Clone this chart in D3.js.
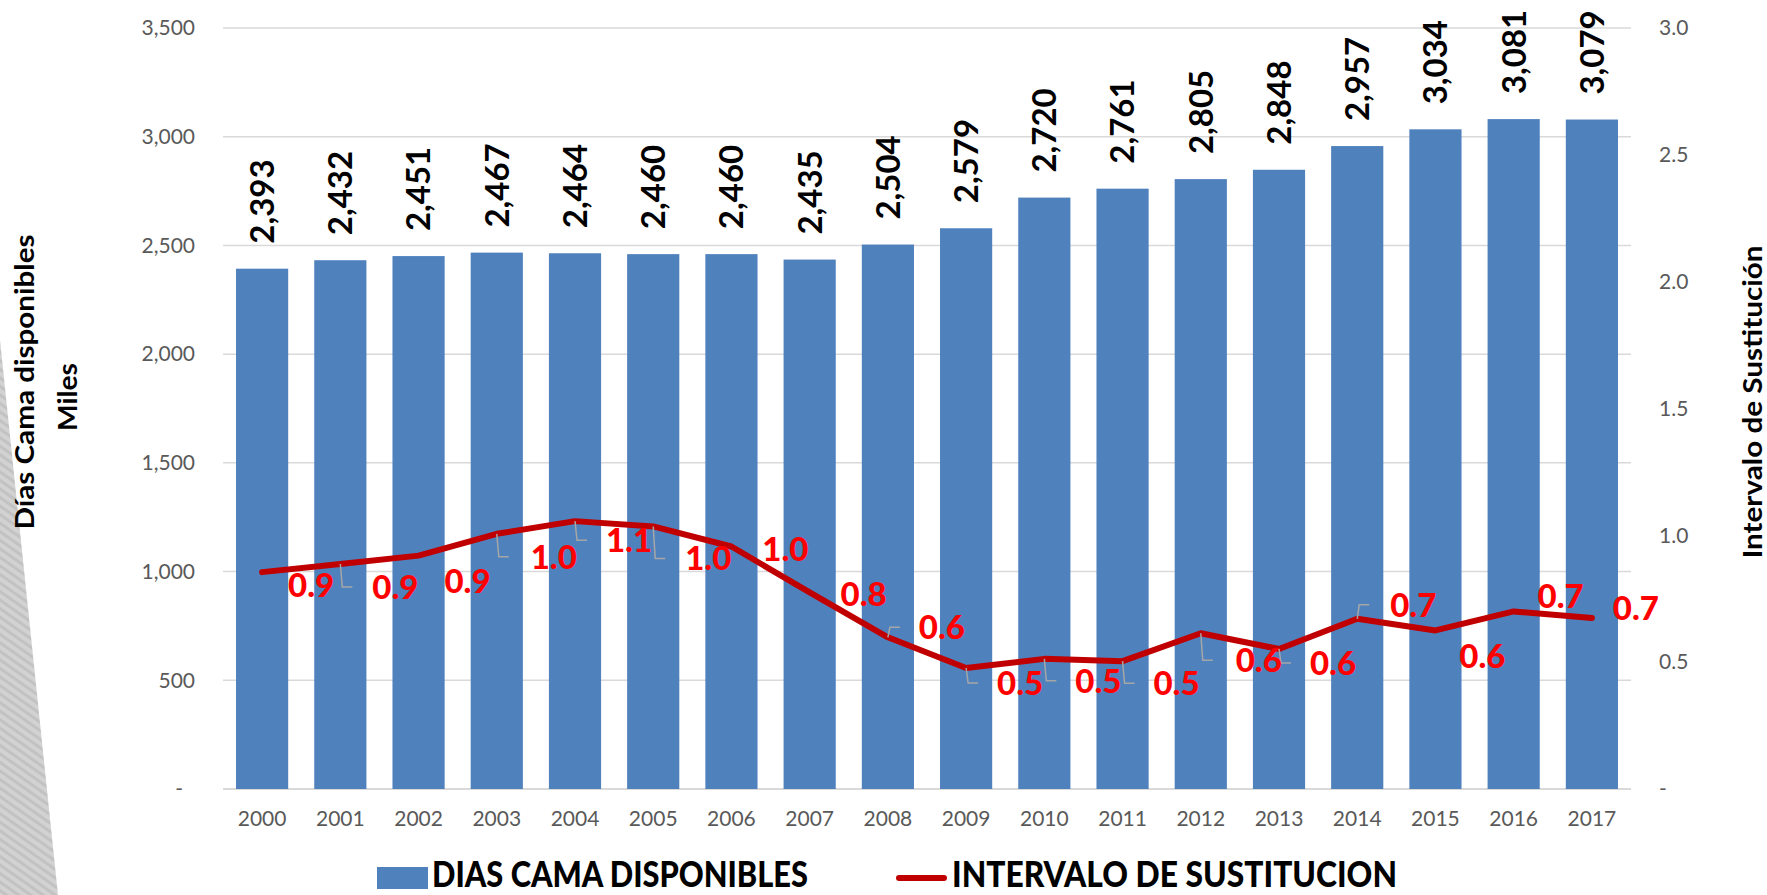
<!DOCTYPE html>
<html>
<head>
<meta charset="utf-8">
<script src="https://cdn.jsdelivr.net/npm/d3@7"></script>
<style>
  body { margin: 0; background: #fff; }
  text { font-family: Lato, "Open Sans", sans-serif; }
</style>
</head>
<body>
<div id="chart"></div>
<script>
// data
const years = ['2000', '2001', '2002', '2003', '2004', '2005', '2006', '2007', '2008',
	'2009', '2010', '2011', '2012', '2013', '2014', '2015', '2016', '2017'];
const diasCama = [2393, 2432, 2451, 2467, 2464, 2460, 2460, 2435, 2504,
	2579, 2720, 2761, 2805, 2848, 2957, 3034, 3081, 3079];
const intervalo = [0.855, 0.887, 0.920, 1.006, 1.056, 1.035, 0.956, 0.775, 0.598,
	0.477, 0.513, 0.504, 0.614, 0.552, 0.671, 0.625, 0.700, 0.674];
const leftTicks = [0, 500, 1000, 1500, 2000, 2500, 3000, 3500];
const rightTicks = [0, 0.5, 1.0, 1.5, 2.0, 2.5, 3.0];

// manual nudges of the red labels (px from their point), and which ones get a leader
const lineLabelOffsets = [[49, 13], [55, 23], [49, 25], [57, 23], [54, 19], [55, 32], [54, 3],
	[54, 2], [54, -10], [54, 15], [54, 22], [54, 22], [58, 27], [54, 14], [56, -14],
	[47, 26], [47, -15], [44, -10]];
const withLeader = [1, 3, 4, 5, 8, 9, 10, 11, 12, 13, 14];

const W = 1767, H = 895;
const margin = { top: 28, right: 136, bottom: 106, left: 223 };

const svg = d3.select('#chart').append('svg')
	.attr('width', W)
	.attr('height', H);

// grey hatched strip on the left edge
const defs = svg.append('defs');
const pat = defs.append('pattern')
	.attr('id', 'hatch')
	.attr('patternUnits', 'userSpaceOnUse')
	.attr('width', 7).attr('height', 7)
	.attr('patternTransform', 'rotate(35)');
pat.append('rect').attr('width', 7).attr('height', 7).attr('fill', '#d2d2d2');
pat.append('rect').attr('width', 7).attr('height', 3).attr('fill', '#c2c2c2');
svg.append('path')
	.attr('d', 'M0,340 L58,895 L0,895 Z')
	.attr('fill', 'url(#hatch)');

const x = d3.scaleBand()
	.domain(years)
	.range([margin.left, W - margin.right])
	.paddingInner(0.333)
	.paddingOuter(0.1665);

const yL = d3.scaleLinear()
	.domain([0, 3500])
	.range([H - margin.bottom, margin.top]);

const yR = d3.scaleLinear()
	.domain([0, 3])
	.range([H - margin.bottom, margin.top]);

const cx = d => x(d) + x.bandwidth() / 2;

// gridlines
svg.append('g')
	.selectAll('line')
	.data(leftTicks)
	.enter().append('line')
	.attr('x1', margin.left)
	.attr('x2', W - margin.right)
	.attr('y1', d => yL(d))
	.attr('y2', d => yL(d))
	.attr('stroke', '#d9d9d9')
	.attr('stroke-width', d => d === 0 ? 2 : 1.5);

// axes
const fmtL = d3.format(',');
const yAxisL = d3.axisLeft(yL)
	.tickValues(leftTicks)
	.tickSize(0)
	.tickPadding(28)
	.tickFormat(d => d === 0 ? '-' : fmtL(d));

const yAxisR = d3.axisRight(yR)
	.tickValues(rightTicks)
	.tickSize(0)
	.tickPadding(28)
	.tickFormat(d => d === 0 ? '-' : d3.format('.1f')(d));

const xAxis = d3.axisBottom(x)
	.tickSize(0)
	.tickPadding(22);

const gL = svg.append('g')
	.attr('transform', `translate(${margin.left}, 0)`)
	.call(yAxisL);
gL.selectAll('text').filter(d => d === 0).attr('dx', -12);

const gR = svg.append('g')
	.attr('transform', `translate(${W - margin.right}, 0)`)
	.call(yAxisR);

const gX = svg.append('g')
	.attr('transform', `translate(0, ${H - margin.bottom})`)
	.call(xAxis);

[gL, gR, gX].forEach(g => {
	g.select('.domain').remove();
	g.selectAll('text')
		.attr('font-family', 'Lato, sans-serif')
		.attr('font-size', 21)
		.attr('fill', '#595959');
});

// bars
svg.append('g')
	.selectAll('rect')
	.data(years)
	.enter().append('rect')
	.attr('x', d => x(d))
	.attr('width', x.bandwidth())
	.attr('y', (d, i) => yL(diasCama[i]))
	.attr('height', (d, i) => yL(0) - yL(diasCama[i]))
	.attr('fill', '#4f81bd');

// bar value labels (rotated)
svg.append('g')
	.selectAll('text')
	.data(years)
	.enter().append('text')
	.attr('transform', (d, i) => `translate(${cx(d)}, ${yL(diasCama[i]) - 25}) rotate(-90)`)
	.attr('dy', '0.36em')
	.attr('text-anchor', 'start')
	.attr('font-weight', 700)
	.attr('font-size', 33)
	.attr('fill', '#000')
	.text((d, i) => fmtL(diasCama[i]));

// line
const line = d3.line()
	.x((d, i) => cx(years[i]))
	.y(d => yR(d));

svg.append('path')
	.datum(intervalo)
	.attr('fill', 'none')
	.attr('stroke', '#c00000')
	.attr('stroke-width', 6)
	.attr('stroke-linejoin', 'round')
	.attr('stroke-linecap', 'round')
	.attr('d', line);

// leader lines
svg.append('g')
	.selectAll('path')
	.data(withLeader)
	.enter().append('path')
	.attr('fill', 'none')
	.attr('stroke', '#a6a6a6')
	.attr('stroke-width', 1.5)
	.attr('d', i => {
		const px = cx(years[i]), py = yR(intervalo[i]);
		const ly = py + lineLabelOffsets[i][1];
		return `M${px},${py} L${px + 2},${ly} L${px + 12},${ly}`;
	});

// line value labels
svg.append('g')
	.selectAll('text')
	.data(intervalo)
	.enter().append('text')
	.attr('x', (d, i) => cx(years[i]) + lineLabelOffsets[i][0])
	.attr('y', (d, i) => yR(d) + lineLabelOffsets[i][1])
	.attr('dy', '0.36em')
	.attr('text-anchor', 'middle')
	.attr('font-weight', 900)
	.attr('font-size', 33)
	.attr('fill', '#ff0000')
	.text(d => d3.format('.1f')(d));

// axis titles
const title = (txt, tx, ty, len) => svg.append('text')
	.attr('transform', `translate(${tx}, ${ty}) rotate(-90)`)
	.attr('text-anchor', 'middle')
	.attr('font-weight', 700)
	.attr('font-size', 27)
	.attr('fill', '#000')
	.attr('textLength', len)
	.attr('lengthAdjust', 'spacingAndGlyphs')
	.text(txt);

title('Días Cama disponibles', 34, 382, 295);
title('Miles', 77, 397, 68);
title('Intervalo de Sustitución', 1762, 402, 313);

// legend
const legend = svg.append('g');
legend.append('rect')
	.attr('x', 377).attr('y', 867)
	.attr('width', 51).attr('height', 22)
	.attr('fill', '#4f81bd');
legend.append('text')
	.attr('x', 432).attr('y', 887)
	.attr('font-weight', 900).attr('font-size', 36)
	.attr('textLength', 376).attr('lengthAdjust', 'spacingAndGlyphs')
	.text('DIAS CAMA DISPONIBLES');
legend.append('line')
	.attr('x1', 899).attr('x2', 944)
	.attr('y1', 878).attr('y2', 878)
	.attr('stroke', '#c00000').attr('stroke-width', 6)
	.attr('stroke-linecap', 'round');
legend.append('text')
	.attr('x', 952).attr('y', 887)
	.attr('font-weight', 900).attr('font-size', 36)
	.attr('textLength', 445).attr('lengthAdjust', 'spacingAndGlyphs')
	.text('INTERVALO DE SUSTITUCION');
</script>
</body>
</html>
